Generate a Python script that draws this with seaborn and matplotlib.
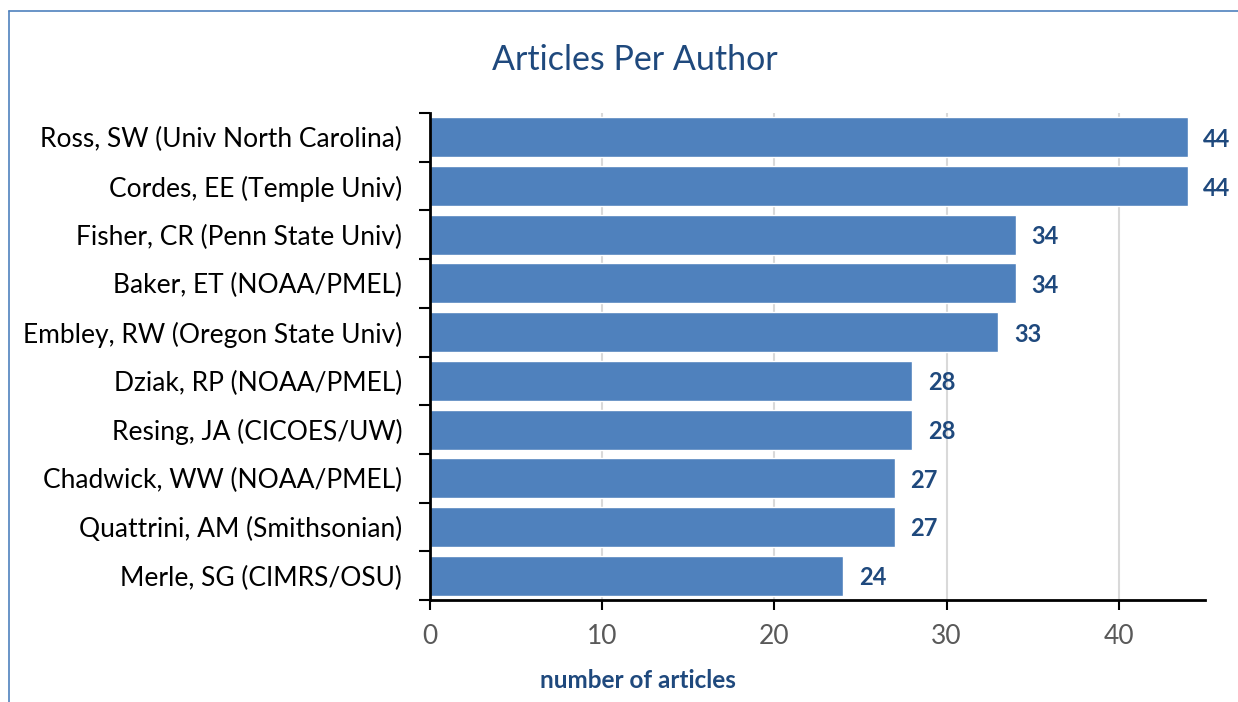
import pandas as pd
import numpy as np
import seaborn as sns
import matplotlib.pyplot as plt
from matplotlib.lines import Line2D

# Chart data
authors = [
    'Ross, SW (Univ North Carolina)',
    'Cordes, EE (Temple Univ)',
    'Fisher, CR (Penn State Univ)',
    'Baker, ET (NOAA/PMEL)',
    'Embley, RW (Oregon State Univ)',
    'Dziak, RP (NOAA/PMEL)',
    'Resing, JA (CICOES/UW)',
    'Chadwick, WW (NOAA/PMEL)',
    'Quattrini, AM (Smithsonian)',
    'Merle, SG (CIMRS/OSU)',
]
articles = [44, 44, 34, 34, 33, 28, 28, 27, 27, 24]
x_ticks = [0, 10, 20, 30, 40]

df = pd.DataFrame({'Author': authors, 'Articles': articles})

sns.set_style('white')
plt.rcParams['font.family'] = ['Lato', 'DejaVu Sans']

fig = plt.figure(figsize=(12.38, 7.02), dpi=100)
ax = fig.add_axes([0.3473, 0.1453, 0.6260, 0.6937])

sns.barplot(data=df, x='Articles', y='Author', orient='h', color='#4F81BD',
            saturation=1, width=0.82, ax=ax, zorder=2)

# Value labels
for i, v in enumerate(articles):
    ax.text(v + 0.9, i, str(v), va='center_baseline', ha='left', fontsize=17,
            fontweight='bold', color='#1F497D')

ax.set_xlim(0, 45)
ax.set_ylim(len(authors) - 0.5, -0.5)
ax.set_xticks(x_ticks)
ax.set_xticklabels([str(t) for t in x_ticks], fontsize=19, color='#595959')
ax.tick_params(axis='x', bottom=True, direction='out', length=7, width=1.5,
               color='black', pad=10)

# Y ticks between categories
ax.set_yticks(range(len(authors)))
ax.set_yticklabels(authors, fontsize=19, color='black')
ax.tick_params(axis='y', which='major', left=False, length=0, pad=20)
ax.set_yticks(np.arange(-0.5, len(authors), 1), minor=True)
ax.tick_params(axis='y', which='minor', left=True, direction='out', length=8,
               width=1.5, color='black')

ax.xaxis.grid(True, color='#D9D9D9', linewidth=1.5, zorder=0)
ax.yaxis.grid(False)
ax.set_axisbelow(True)

for s in ['top', 'right']:
    ax.spines[s].set_visible(False)
for s in ['left', 'bottom']:
    ax.spines[s].set_color('black')
    ax.spines[s].set_linewidth(2)

ax.set_ylabel('')
ax.set_xlabel('number of articles', fontsize=17.5, fontweight='bold', color='#1F497D')
ax.xaxis.set_label_coords(0.268, -0.142)

fig.text(0.513, 0.915, 'Articles Per Author', ha='center', va='center',
         fontsize=24.5, color='#1F497D')

# Outer border (left and top edges visible)
fig.add_artist(Line2D([9 / 1238, 9 / 1238], [0, 1 - 11 / 702], color='#4F81BD', linewidth=1.2))
fig.add_artist(Line2D([9 / 1238, 1], [1 - 11 / 702, 1 - 11 / 702], color='#4F81BD', linewidth=1.2))

fig.savefig('out.png', dpi=100)
